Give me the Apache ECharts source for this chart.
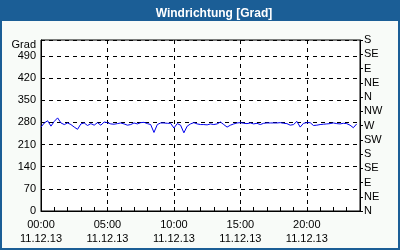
<!DOCTYPE html>
<html><head><meta charset="utf-8">
<script src="https://cdn.jsdelivr.net/npm/echarts@6/dist/echarts.min.js"></script>
<style>html,body{margin:0;padding:0;background:#fff}#c{width:400px;height:250px}</style>
</head><body><div id="c"></div><script>
const titleText = 'Windrichtung [Grad]';
const axisName = 'Grad';
const dateLabel = '11.12.13';
const dirLabels = ['N','NE','E','SE','S','SW','W','NW','N','NE','E','SE','S'];
const stepHours = 0.25;
const windDir = [
  265,278,285,268,283,294,278,273,278,273,265,258,
  275,278,270,276,271,279,271,281,279,275,274,276,
  278,275,271,273,278,275,279,280,276,273,248,273,
  278,278,277,277,262,276,271,247,268,275,279,275,
  273,273,272,275,273,275,281,273,265,271,275,278,
  279,277,276,278,275,277,273,277,278,278,278,278,
  279,277,276,271,273,283,265,277,279,279,270,271,
  273,274,275,276,278,276,275,277,276,271,263,275
];
const seriesData = windDir.map((v, i) => [i * stepHours, v]);
const pad = n => (n < 10 ? '0' : '') + n;
const FONT = 'Liberation Sans';
const BLUE = '#1b5e96';
const gridPos = {left: 41, top: 40, right: 40, bottom: 39};

const chart = echarts.init(document.getElementById('c'), null, {renderer: 'canvas'});
chart.setOption({
  animation: false,
  backgroundColor: '#f8fbf8',
  title: {
    text: titleText, left: 209, top: 3, textAlign: 'center', z: 20,
    textStyle: {color: '#fff', fontSize: 12, fontWeight: 'bold', fontFamily: FONT}
  },
  graphic: [
    {type: 'rect', z: 1, shape: {x: 0, y: 0, width: 400, height: 21}, style: {fill: BLUE}},
    {type: 'rect', z: 1, shape: {x: 1, y: 1, width: 398, height: 248}, style: {fill: 'none', stroke: BLUE, lineWidth: 2}}
  ],
  grid: [
    Object.assign({show: true, backgroundColor: '#fff', borderColor: '#000', borderWidth: 1}, gridPos),
    Object.assign({show: false}, gridPos)
  ],
  xAxis: [
    {
      type: 'value', gridIndex: 0, min: 0, max: 24, interval: 5,
      axisLine: {show: true, lineStyle: {color: '#000', width: 1}},
      axisTick: {show: false},
      axisLabel: {
        color: '#000', fontSize: 11, fontFamily: FONT, margin: 7, lineHeight: 14,
        showMaxLabel: false,
        formatter: v => (v % 5 === 0 && v < 24) ? pad(v) + ':00\n' + dateLabel : ''
      },
      splitLine: {show: true, lineStyle: {color: '#000', type: [4, 4], width: 1}}
    },
    {
      type: 'value', gridIndex: 1, min: 0, max: 24, interval: 1,
      axisLine: {show: false},
      axisTick: {show: true, inside: true, length: 4, lineStyle: {color: '#000'}},
      axisLabel: {show: false},
      splitLine: {show: false}
    }
  ],
  yAxis: [
    {
      type: 'value', gridIndex: 0, position: 'left', min: 0, max: 540, interval: 70,
      name: axisName, nameLocation: 'end', nameGap: -6,
      nameTextStyle: {color: '#000', fontSize: 11, fontFamily: FONT, align: 'right', verticalAlign: 'middle', padding: [0, 5, 0, 0]},
      axisLine: {show: true, lineStyle: {color: '#000', width: 1}},
      axisTick: {show: false},
      axisLabel: {color: '#000', fontSize: 11, fontFamily: FONT, margin: 5, formatter: v => v > 490 ? '' : String(v)},
      splitLine: {show: true, lineStyle: {color: '#000', type: [4, 4], width: 1}}
    },
    {
      type: 'value', gridIndex: 0, position: 'right', min: 0, max: 540, interval: 45,
      axisLine: {show: true, lineStyle: {color: '#000', width: 1}},
      axisTick: {show: true, inside: false, length: 3, lineStyle: {color: '#000'}},
      axisLabel: {color: '#000', fontSize: 11, fontFamily: FONT, margin: 4, formatter: v => dirLabels[Math.round(v / 45)] || ''},
      splitLine: {show: false}
    },
    {type: 'value', gridIndex: 1, show: false, min: 0, max: 540}
  ],
  series: [{
    type: 'line', xAxisIndex: 0, yAxisIndex: 0, data: seriesData,
    showSymbol: false, symbol: 'none',
    lineStyle: {color: '#0000ee', width: 1}
  }]
});
</script></body></html>
